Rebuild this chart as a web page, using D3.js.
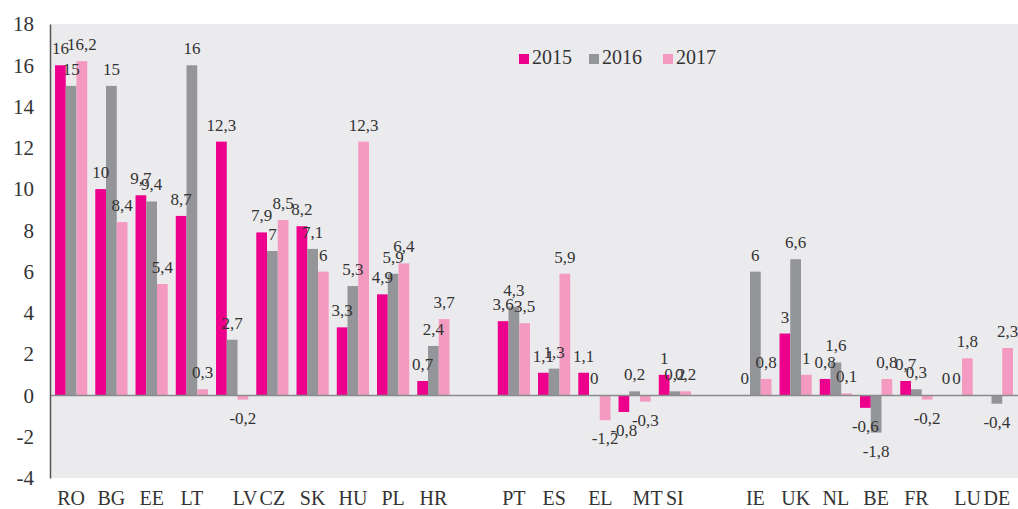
<!DOCTYPE html>
<html>
<head>
<meta charset="utf-8">
<script src="https://cdn.jsdelivr.net/npm/d3@7"></script>
<style>
  body { margin: 0; background: #fff; }
  text { font-family: "Liberation Serif", "Times New Roman", serif; fill: #333; }
</style>
</head>
<body>
<svg width="1018" height="509"></svg>
<script>
// categories, "" = empty slot between country groups
var countries = ["RO","BG","EE","LT","LV","CZ","SK","HU","PL","HR","",
                 "PT","ES","EL","MT","SI","",
                 "IE","UK","NL","BE","FR","LU","DE"];
var keys = ["2015","2016","2017"];
var v2015 = [16, 10, 9.7, 8.7, 12.3, 7.9, 8.2, 3.3, 4.9, 0.7, null,
             3.6, 1.1, 1.1, -0.8, 1, null,
             0, 3, 0.8, -0.6, 0.7, 0, null];
var v2016 = [15, 15, 9.4, 16, 2.7, 7, 7.1, 5.3, 5.9, 2.4, null,
             4.3, 1.3, 0, 0.2, 0.2, null,
             6, 6.6, 1.6, -1.8, 0.3, 0, -0.4];
var v2017 = [16.2, 8.4, 5.4, 0.3, -0.2, 8.5, 6, 12.3, 6.4, 3.7, null,
             3.5, 5.9, -1.2, -0.3, 0.2, null,
             0.8, 1, 0.1, 0.8, -0.2, 1.8, 2.3];
var yTicks = [-4, -2, 0, 2, 4, 6, 8, 10, 12, 14, 16, 18];

var series = [v2015, v2016, v2017];
var colors = ["#ec008c", "#939598", "#f49ac1"];
// small label shifts (in px) seen in the original axis
var nudge = {LV: 13, EL: 6, MT: 13, LU: 11};

var svg = d3.select("svg"),
    plotLeft = 50, plotRight = 1018, plotTop = 24, plotBottom = 478;

var x = d3.scaleBand()
    .domain(d3.range(countries.length))
    .range([plotLeft, plotRight])
    .paddingInner(0.2)
    .paddingOuter(0.125);

var xs = d3.scaleBand()
    .domain(keys)
    .range([0, x.bandwidth()]);

var y = d3.scaleLinear()
    .domain([-4, 18])
    .range([plotBottom, plotTop]);

var z = d3.scaleOrdinal().domain(keys).range(colors);

// plot background
svg.append("rect")
    .attr("x", plotLeft).attr("y", plotTop)
    .attr("width", plotRight - plotLeft).attr("height", plotBottom - plotTop)
    .attr("fill", "#ebebee");

var rows = [];
countries.forEach(function(c, i) {
  keys.forEach(function(k, j) {
    var v = series[j][i];
    if (v !== null) rows.push({i: i, key: k, value: v});
  });
});

svg.append("g")
  .selectAll("rect")
  .data(rows)
  .enter().append("rect")
    .attr("x", function(d) { return x(d.i) + xs(d.key); })
    .attr("y", function(d) { return y(Math.max(0, d.value)); })
    .attr("width", xs.bandwidth())
    .attr("height", function(d) { return Math.abs(y(d.value) - y(0)); })
    .attr("fill", function(d) { return z(d.key); });

// zero line
svg.append("line")
    .attr("x1", plotLeft).attr("x2", plotRight)
    .attr("y1", y(0)).attr("y2", y(0))
    .attr("stroke", "#8a8a8c").attr("stroke-width", 1.5);

// value labels
svg.append("g")
  .selectAll("text")
  .data(rows)
  .enter().append("text")
    .attr("x", function(d) { return x(d.i) + xs(d.key) + xs.bandwidth() / 2; })
    .attr("y", function(d) { return d.value < 0 ? y(d.value) + 24 : y(d.value) - 11; })
    .attr("text-anchor", "middle")
    .attr("font-size", 17)
    .text(function(d) { return String(d.value).replace(".", ","); });

// y axis
var ya = svg.append("g")
    .attr("transform", "translate(" + plotLeft + ",0)")
    .call(d3.axisLeft(y).tickValues(yTicks).tickSize(0).tickPadding(16)
      .tickFormat(function(d) { return String(d); }));
ya.select(".domain").attr("stroke", "#555").attr("stroke-width", 1.5);
ya.selectAll("text").attr("font-size", 21).attr("font-family", null).style("fill", "#333");

// x axis
var xa = svg.append("g")
    .attr("transform", "translate(0," + plotBottom + ")")
    .call(d3.axisBottom(x).tickSize(0)
      .tickFormat(function(i) { return countries[i]; }));
xa.select(".domain").remove();
xa.selectAll("text")
    .attr("font-size", 20)
    .attr("font-family", null)
    .style("fill", "#333")
    .attr("y", 27).attr("dy", 0)
    .attr("dx", function(i) { return nudge[countries[i]] || 0; });

// legend
var legend = svg.append("g")
    .attr("transform", "translate(519,54)")
  .selectAll("g")
  .data(keys)
  .enter().append("g")
    .attr("transform", function(d, i) { return "translate(" + [0, 70, 144][i] + ",0)"; });

legend.append("rect")
    .attr("width", 10).attr("height", 10)
    .attr("fill", z);

legend.append("text")
    .attr("x", 13).attr("y", 10)
    .attr("font-size", 20)
    .text(function(d) { return d; });
</script>
</body>
</html>
